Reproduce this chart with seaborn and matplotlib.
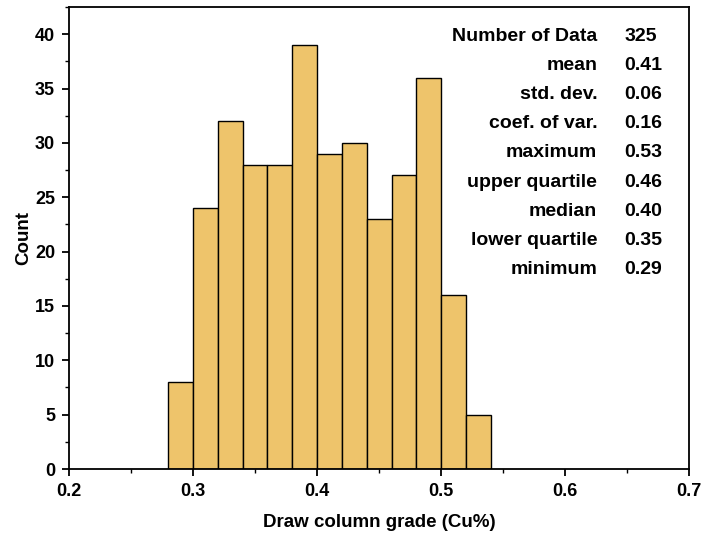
import numpy as np
import pandas as pd
import matplotlib
matplotlib.use("Agg")
import matplotlib.pyplot as plt
import seaborn as sns
from matplotlib.ticker import MultipleLocator

# Histogram of draw column copper grade, bins of 0.02 from 0.28 to 0.54
bin_edges = [0.28, 0.30, 0.32, 0.34, 0.36, 0.38, 0.40, 0.42, 0.44, 0.46, 0.48, 0.50, 0.52, 0.54]
counts = [8, 24, 32, 28, 28, 39, 29, 30, 23, 27, 36, 16, 5]

stat_labels = ["Number of Data", "mean", "std. dev.", "coef. of var.", "maximum",
               "upper quartile", "median", "lower quartile", "minimum"]
stat_values = ["325", "0.41", "0.06", "0.16", "0.53", "0.46", "0.40", "0.35", "0.29"]

sns.set_style("ticks")
plt.rcParams["font.family"] = ["Liberation Sans", "DejaVu Sans"]
plt.rcParams["font.weight"] = "bold"
for key in ("text.color", "axes.labelcolor", "xtick.color", "ytick.color", "axes.edgecolor"):
    plt.rcParams[key] = "black"

centers = [(a + b) / 2 for a, b in zip(bin_edges[:-1], bin_edges[1:])]
df = pd.DataFrame({"grade": centers, "count": counts})

fig = plt.figure(figsize=(7.04, 5.37), dpi=100)
ax = fig.add_axes([0.098, 0.1266, 0.881, 0.8604])

sns.histplot(data=df, x="grade", weights="count", bins=bin_edges, ax=ax,
             color="#EEC46B", alpha=1.0, edgecolor="black", linewidth=1.0)

ax.set_xlim(0.2, 0.7)
ax.set_ylim(0, 42.5)
ax.xaxis.set_major_locator(MultipleLocator(0.1))
ax.xaxis.set_minor_locator(MultipleLocator(0.05))
ax.yaxis.set_major_locator(MultipleLocator(5))
ax.yaxis.set_minor_locator(MultipleLocator(2.5))
ax.set_xticklabels([f"{v:.1f}" for v in ax.get_xticks()])

for side in ax.spines.values():
    side.set_visible(True)
    side.set_linewidth(1.3)
    side.set_color("black")
ax.tick_params(which="major", direction="out", length=5, width=1.3, labelsize=13, pad=5)
ax.tick_params(which="minor", direction="out", length=3, width=1.0)
ax.tick_params(top=False, right=False, which="both")

ax.set_xlabel("Draw column grade (Cu%)", fontsize=13.5, fontweight="bold", labelpad=10)
ax.set_ylabel("Count", fontsize=13.5, fontweight="bold", labelpad=2)

# Summary statistics block in the upper right
y0, dy = 39.8, 2.68
for i, (lab, val) in enumerate(zip(stat_labels, stat_values)):
    y = y0 - i * dy
    ax.text(0.6258, y, lab, ha="right", va="center", fontsize=14, fontweight="bold")
    ax.text(0.6476, y, val, ha="left", va="center", fontsize=14, fontweight="bold")

fig.savefig("out.png", dpi=100)
